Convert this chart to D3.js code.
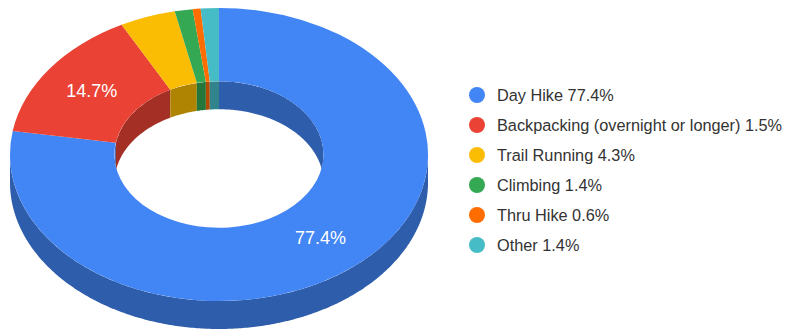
<!DOCTYPE html>
<html>
<head>
<meta charset="utf-8">
<script src="https://cdn.jsdelivr.net/npm/d3@7"></script>
<style>
  html, body { margin: 0; padding: 0; background: #fff; }
  svg { display: block; font-family: Arial, "Liberation Sans", sans-serif; }
</style>
</head>
<body>
<svg id="chart" width="788" height="334"></svg>
<script>
// Activity shares
const categories = ["Day Hike", "Backpacking (overnight or longer)", "Trail Running", "Climbing", "Thru Hike", "Other"];
const values = [77.4, 14.7, 4.3, 1.4, 0.6, 1.4];
const legendShares = ["77.4%", "1.5%", "4.3%", "1.4%", "0.6%", "1.4%"];
const colors = ["#4285f4", "#ea4335", "#fbbc04", "#34a853", "#ff6d01", "#46bdc6"];

const svg = d3.select("#chart");

// Tilted donut geometry
const cx = 219, cy = 154.5, rx = 209, ry = 146.5, hole = 0.5, depth = 28;

const pie = d3.pie().sort(null).value(d => d)(values);
const total = d3.sum(values);

// project an angle (0 = 12 o'clock, clockwise) at relative radius r onto the tilted plane
const sx = d3.scaleLinear().domain([-1, 1]).range([cx - rx, cx + rx]);
const sy = d3.scaleLinear().domain([-1, 1]).range([cy - ry, cy + ry]);
const pt = (a, r, dz = 0) => [sx(r * Math.sin(a)), sy(-r * Math.cos(a)) + dz];

// wall band between angles a0..a1 at relative radius r
function wall(a0, a1, r) {
  const n = Math.max(2, Math.ceil((a1 - a0) / 0.01));
  const top = d3.range(n + 1).map(i => pt(a0 + (a1 - a0) * i / n, r));
  const bot = d3.range(n + 1).map(i => pt(a1 - (a1 - a0) * i / n, r, depth));
  return d3.line()(top.concat(bot)) + "Z";
}

const side = c => d3.color(c).darker(1).formatHex();

// outer walls on the front half
const gOuter = svg.append("g");
pie.forEach((p, i) => {
  const a0 = Math.max(p.startAngle, Math.PI / 2);
  const a1 = Math.min(p.endAngle, 3 * Math.PI / 2);
  if (a1 > a0) gOuter.append("path").attr("d", wall(a0, a1, 1)).attr("fill", side(colors[i]));
});

// top faces
const arc = d3.arc().innerRadius(hole).outerRadius(1);
svg.append("g")
  .attr("transform", `translate(${cx},${cy}) scale(${rx},${ry})`)
  .selectAll("path")
  .data(pie)
  .join("path")
  .attr("d", arc)
  .attr("fill", (d, i) => colors[i]);

// inner walls seen through the hole (back half), clipped to the hole
const clip = svg.append("defs").append("clipPath").attr("id", "holeClip");
clip.append("ellipse").attr("cx", cx).attr("cy", cy).attr("rx", rx * hole).attr("ry", ry * hole);
const gInner = svg.append("g").attr("clip-path", "url(#holeClip)");
const ranges = [[-Math.PI / 2, Math.PI / 2], [3 * Math.PI / 2, 5 * Math.PI / 2]];
pie.forEach((p, i) => {
  ranges.forEach(([lo, hi]) => {
    const a0 = Math.max(p.startAngle, lo);
    const a1 = Math.min(p.endAngle, hi);
    if (a1 > a0) gInner.append("path").attr("d", wall(a0, a1, hole)).attr("fill", side(colors[i]));
  });
});

// slice labels
svg.append("g")
  .selectAll("text")
  .data(pie.filter(p => p.value / total >= 0.05))
  .join("text")
  .attr("x", p => pt((p.startAngle + p.endAngle) / 2, (1 + hole) / 2)[0])
  .attr("y", p => pt((p.startAngle + p.endAngle) / 2, (1 + hole) / 2)[1])
  .attr("dy", "0.35em")
  .attr("text-anchor", "middle")
  .attr("fill", "#fff")
  .attr("font-size", 18)
  .text(p => p.value.toFixed(1) + "%");

// legend
const ly = d3.scaleLinear().domain([0, 1]).range([95, 125]);
const legend = svg.append("g")
  .selectAll("g")
  .data(categories)
  .join("g")
  .attr("transform", (d, i) => `translate(477,${ly(i)})`);
legend.append("circle").attr("r", 8).attr("fill", (d, i) => colors[i]);
legend.append("text")
  .attr("x", 20)
  .attr("dy", "0.35em")
  .attr("font-size", 16.3)
  .attr("fill", "#333")
  .text((d, i) => `${d} ${legendShares[i]}`);
</script>
</body>
</html>
